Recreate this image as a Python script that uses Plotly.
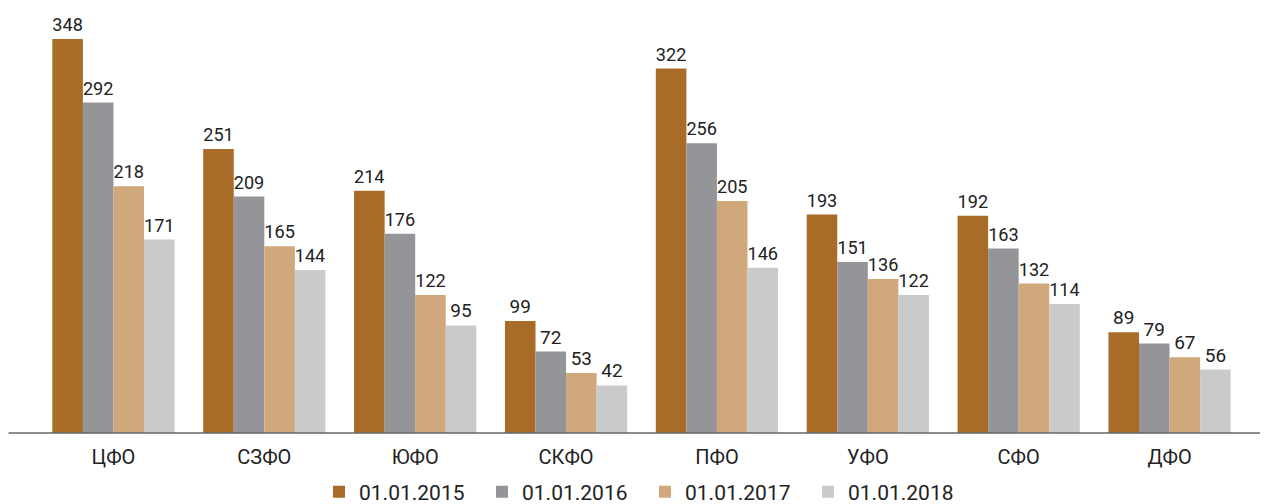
import plotly.graph_objects as go

categories = ["ЦФО", "СЗФО", "ЮФО", "СКФО", "ПФО", "УФО", "СФО", "ДФО"]
series_names = ["01.01.2015", "01.01.2016", "01.01.2017", "01.01.2018"]
v2015 = [348, 251, 214, 99, 322, 193, 192, 89]
v2016 = [292, 209, 176, 72, 256, 151, 163, 79]
v2017 = [218, 165, 122, 53, 205, 136, 132, 67]
v2018 = [171, 144, 95, 42, 146, 122, 114, 56]
colors = ["#A86B28", "#949599", "#D0A87C", "#C9CACC"]

FONT = "Roboto, sans-serif"

# page body has an 8px margin; figure is offset by (8, 8)
W, H = 1260, 496
L, R, T, B = 29.5, 22.5, 2, 71
PW = W - L - R

fig = go.Figure()
for name, vals, c in zip(series_names, [v2015, v2016, v2017, v2018], colors):
    fig.add_trace(go.Bar(
        x=categories, y=vals, name=name, marker=dict(color=c, line=dict(width=0)),
        text=[str(v) for v in vals], textposition="outside", cliponaxis=False,
        textfont=dict(size=19, color="#222222", family=FONT),
    ))

fig.add_shape(type="line", xref="paper", yref="paper",
              x0=-L / PW, x1=1 + R / PW, y0=0, y1=0,
              line=dict(color="#666666", width=1.5))

fig.update_layout(
    width=W, height=H,
    margin=dict(l=L, r=R, t=T, b=B, autoexpand=False),
    barmode="group", bargap=0.19, bargroupgap=0,
    plot_bgcolor="white", paper_bgcolor="white",
    font=dict(family=FONT, color="#222222"),
    showlegend=True,
    legend=dict(orientation="h", x=637 / W, xref="container", xanchor="center",
                y=12 / H, yref="container", yanchor="middle",
                font=dict(size=21, family=FONT, color="#222222"),
                traceorder="normal", entrywidth=118),
)
fig.update_xaxes(showline=False, ticks="", ticklabelstandoff=10,
                 tickfont=dict(size=20, family=FONT, color="#222222"), showgrid=False)
fig.update_yaxes(range=[0, 373.7], visible=False, showgrid=False, zeroline=False)

fig.write_html("out.html")
